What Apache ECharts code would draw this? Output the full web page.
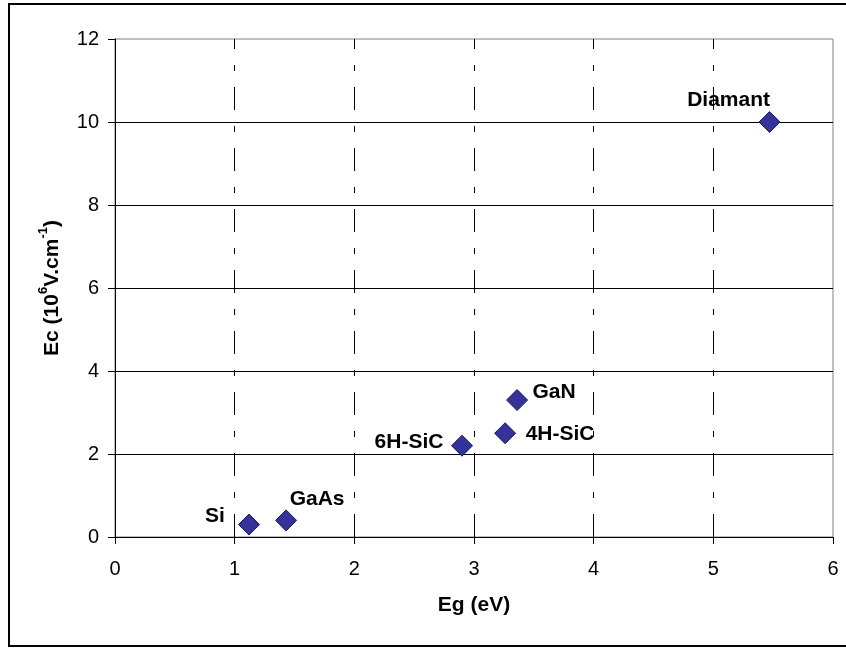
<!DOCTYPE html>
<html>
<head>
<meta charset="utf-8">
<script src="https://cdn.jsdelivr.net/npm/echarts@6/dist/echarts.min.js"></script>
<style>
html,body{margin:0;padding:0;background:#fff;}
#chart{width:846px;height:649px;}
</style>
</head>
<body>
<div id="chart"></div>
<script>
// Data
var materials = ['Si', 'GaAs', '6H-SiC', 'GaN', '4H-SiC', 'Diamant'];
var egValues = [1.12, 1.43, 2.9, 3.36, 3.26, 5.47];
var ecValues = [0.3, 0.4, 2.2, 3.3, 2.5, 10];
var xTicks = [0, 1, 2, 3, 4, 5, 6];
var yTicks = [0, 2, 4, 6, 8, 10, 12];
var xGridValues = [1, 2, 3, 4, 5];
var yGridValues = [2, 4, 6, 8, 10];

// Label offsets (style only)
var labelOffsets = [[-34, -8], [31, -21], [-53, -3], [37, -8], [55, 1], [-41, -22]];

var font = 'Liberation Sans, Arial, sans-serif';

var points = materials.map(function (n, i) {
  return {
    name: n,
    value: [egValues[i], ecValues[i]],
    label: { offset: labelOffsets[i] }
  };
});

var chart = echarts.init(document.getElementById('chart'), null, { renderer: 'canvas' });
chart.setOption({
  backgroundColor: '#ffffff',
  animation: false,
  graphic: [{
    type: 'rect',
    shape: { x: 9, y: 4, width: 850, height: 642 },
    style: { fill: 'none', stroke: '#000', lineWidth: 2 },
    z: 100
  }],
  grid: {
    left: 115, top: 39, right: 13, bottom: 112,
    show: true, borderColor: '#808080', borderWidth: 1, backgroundColor: 'transparent'
  },
  xAxis: {
    type: 'value', min: xTicks[0], max: xTicks[xTicks.length - 1], interval: 1,
    name: 'Eg (eV)', nameLocation: 'middle', nameGap: 58,
    nameTextStyle: { fontFamily: font, fontSize: 21, fontWeight: 'bold', color: '#000' },
    axisLine: { show: true, lineStyle: { color: '#000', width: 1 } },
    axisTick: { show: true, inside: false, length: 7, lineStyle: { color: '#000' } },
    axisLabel: { fontFamily: font, fontSize: 20, color: '#000', margin: 22 },
    splitLine: { show: false }
  },
  yAxis: {
    type: 'value', min: yTicks[0], max: yTicks[yTicks.length - 1], interval: 2,
    name: '{b|Ec (10}{s|6}{b|V.cm}{s|-1}{b|)}', nameLocation: 'middle', nameGap: 52, nameRotate: 90,
    nameTextStyle: {
      rich: {
        b: { fontFamily: font, fontSize: 21, fontWeight: 'bold', color: '#000', lineHeight: 26, verticalAlign: 'bottom' },
        s: { fontFamily: font, fontSize: 13, fontWeight: 'bold', color: '#000', lineHeight: 26, verticalAlign: 'top' }
      }
    },
    axisLine: { show: true, lineStyle: { color: '#000', width: 1 } },
    axisTick: { show: true, inside: false, length: 7, lineStyle: { color: '#000' } },
    axisLabel: { fontFamily: font, fontSize: 20, color: '#000', margin: 16 },
    splitLine: { show: false }
  },
  series: [{
    type: 'scatter',
    symbol: 'diamond',
    symbolSize: 21,
    itemStyle: { color: '#333399', borderColor: '#1a1a5e', borderWidth: 1, opacity: 1 },
    emphasis: { disabled: true },
    label: {
      show: true, position: 'inside', formatter: '{b}',
      fontFamily: font, fontSize: 21, fontWeight: 'bold', color: '#000',
      align: 'center', verticalAlign: 'middle', opacity: 1
    },
    data: points,
    z: 10,
    markLine: {
      silent: true, symbol: 'none', animation: false,
      label: { show: false },
      data: xGridValues.map(function (v) {
        return { xAxis: v, lineStyle: { color: '#000', width: 1, type: [23, 16, 6, 16] } };
      }).concat(yGridValues.map(function (v) {
        return { yAxis: v, lineStyle: { color: '#000', width: 1, type: 'solid' } };
      })),
      z: 1
    }
  }]
});
</script>
</body>
</html>
